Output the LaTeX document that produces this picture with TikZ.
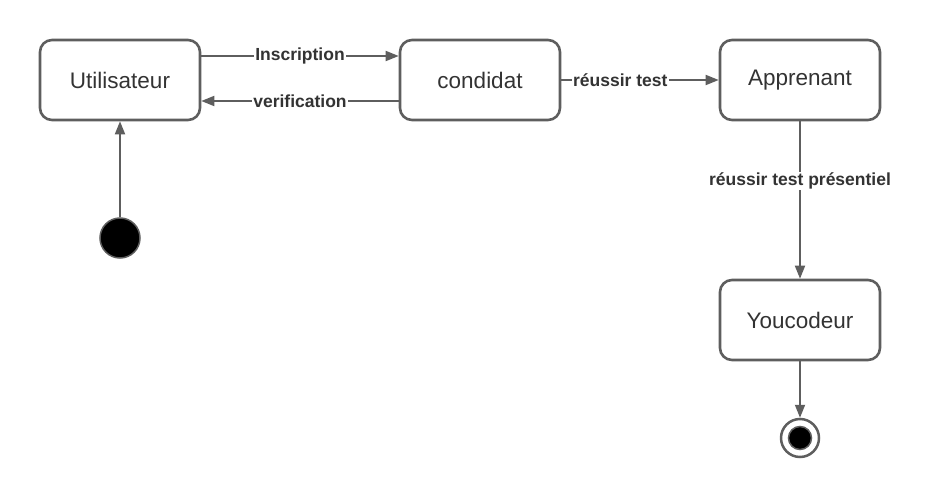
\documentclass[tikz,border=0pt]{standalone}
\usepackage{fontspec}
\setmainfont{Liberation Sans}
\usetikzlibrary{arrows.meta}
\definecolor{ln}{HTML}{5E5E5E}
\definecolor{tx}{HTML}{333333}
\tikzset{
  state/.style={draw=ln, line width=2.6pt, rounded corners=12pt, minimum width=160pt, minimum height=80pt, fill=white, text=tx, font=\fontsize{22.5}{26}\selectfont, inner sep=0pt},
  conn/.style={draw=ln, line width=1.8pt, -{Triangle[length=13pt,width=10pt]}},
  lbl/.style={fill=white, text=tx, font=\bfseries\fontsize{17.5}{20}\selectfont, inner sep=1pt}
}
\begin{document}
\begin{tikzpicture}[x=1pt,y=-1pt]
\useasboundingbox (0,0) rectangle (932,500);
\node[state] (u) at (120,80) {Utilisateur};
\node[state] (c) at (480,80) {condidat};
\node[state] (a) at (800,80) {Apprenant};
\node[state] (y) at (800,320) {Youcodeur};
\node[circle, fill=black, draw=ln, line width=1.5pt, minimum size=40pt, inner sep=0pt] (s) at (120,238) {};
\node[circle, fill=white, draw=ln, line width=2.5pt, minimum size=38pt, inner sep=0pt] (e) at (800,438) {};
\node[circle, fill=black, draw=ln, line width=1.5pt, minimum size=23pt, inner sep=0pt] (ei) at (800,438) {};
\draw[conn] ([yshift=24pt]u.east) -- node[lbl] {Inscription} ([yshift=24pt]c.west);
\draw[conn] ([yshift=-21pt]c.west) -- node[lbl] {verification} ([yshift=-21pt]u.east);
\draw[conn] (c.east) -- node[lbl, pos=0.375] {réussir test} (a.west);
\draw[conn] (a.south) -- node[lbl, pos=0.38] {réussir test présentiel} (y.north);
\draw[conn] (y.south) -- (e.north);
\draw[conn] (s.north) -- (u.south);
\end{tikzpicture}
\end{document}
